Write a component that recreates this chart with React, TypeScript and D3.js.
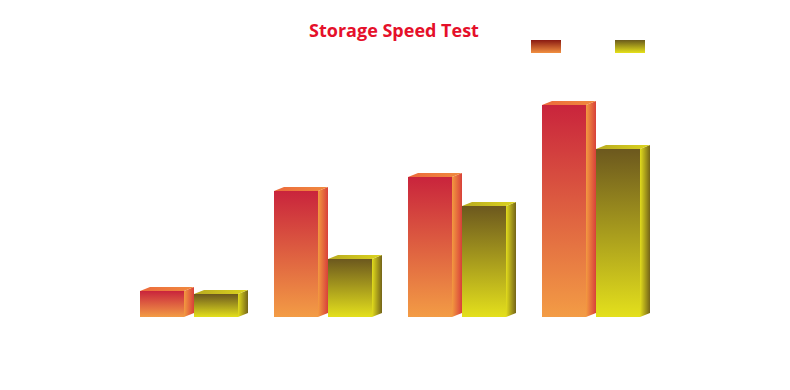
import React from "react";
import * as d3 from "d3";

const categories = ["Test 1", "Test 2", "Test 3", "Test 4"];
const seriesNames = ["Read", "Write"];
const readValues = [26, 126, 140, 212];
const writeValues = [23, 58, 111, 168];

const W = 790;
const H = 390;
const DX = 10;
const DY = 4;

export default function App() {
  const x0 = d3
    .scaleBand<string>()
    .domain(categories)
    .range([127, 663])
    .paddingInner(26 / 134)
    .paddingOuter(13 / 134);
  const x1 = d3.scaleBand<string>().domain(seriesNames).range([0, x0.bandwidth()]);
  const y = d3.scaleLinear().domain([0, 250]).range([317, 67]);
  const frontW = x1.bandwidth() - DX;
  const data = [readValues, writeValues];
  const ids = ["r", "y"];

  return (
    <svg width={W} height={H} style={{ position: "absolute", left: 0, top: 0 }}>
      <defs>
        <linearGradient id="r-front" x1="0" y1="0" x2="0" y2="1">
          <stop offset="0" stopColor="#c9243c" />
          <stop offset="1" stopColor="#f39c45" />
        </linearGradient>
        <linearGradient id="r-side" x1="0" y1="0" x2="1" y2="0">
          <stop offset="0" stopColor="#f39a40" />
          <stop offset="1" stopColor="#d8403a" />
        </linearGradient>
        <linearGradient id="r-top" x1="0" y1="0" x2="1" y2="0">
          <stop offset="0" stopColor="#ec6a3c" />
          <stop offset="1" stopColor="#f08a3e" />
        </linearGradient>
        <linearGradient id="y-front" x1="0" y1="0" x2="0" y2="1">
          <stop offset="0" stopColor="#6c581e" />
          <stop offset="1" stopColor="#e4e01c" />
        </linearGradient>
        <linearGradient id="y-side" x1="0" y1="0" x2="1" y2="0">
          <stop offset="0" stopColor="#e2dc1c" />
          <stop offset="1" stopColor="#746418" />
        </linearGradient>
        <linearGradient id="y-top" x1="0" y1="0" x2="1" y2="0">
          <stop offset="0" stopColor="#b8aa20" />
          <stop offset="1" stopColor="#dcd41e" />
        </linearGradient>
        <linearGradient id="r-leg" x1="0" y1="0" x2="0" y2="1">
          <stop offset="0" stopColor="#8a1a12" />
          <stop offset="1" stopColor="#f29040" />
        </linearGradient>
        <linearGradient id="y-leg" x1="0" y1="0" x2="0" y2="1">
          <stop offset="0" stopColor="#6a5a1c" />
          <stop offset="1" stopColor="#e6e21a" />
        </linearGradient>
      </defs>
      <rect width={W} height={H} fill="#ffffff" />
      <text
        x={394}
        y={37}
        textAnchor="middle"
        fontFamily="'Open Sans', sans-serif"
        fontWeight={700}
        fontSize={18}
        fill="#e5102a"
      >
        Storage Speed Test
      </text>
      {seriesNames.map((s, i) => (
        <g key={s}>
          <rect x={531 + i * 84} y={40} width={30} height={13} fill={`url(#${ids[i]}-leg)`} />
          <text x={566 + i * 84} y={51} fontFamily="'Open Sans', sans-serif" fontSize={11} fill="#ffffff">
            {s}
          </text>
        </g>
      ))}
      {categories.map((c, ci) => (
        <g key={c}>
          {seriesNames.map((s, si) => {
            const v = data[si][ci];
            const xl = (x0(c) as number) + (x1(s) as number);
            const xr = xl + frontW;
            const yt = y(v);
            const yb = y(0);
            const id = ids[si];
            return (
              <g key={s}>
                <path
                  d={`M${xr},${yb}L${xr + DX},${yb - DY}L${xr + DX},${yt - DY}L${xr},${yt}Z`}
                  fill={`url(#${id}-side)`}
                />
                <path
                  d={`M${xl},${yt}L${xl + DX},${yt - DY}L${xr + DX},${yt - DY}L${xr},${yt}Z`}
                  fill={`url(#${id}-top)`}
                />
                <rect x={xl} y={yt} width={frontW} height={yb - yt} fill={`url(#${id}-front)`} />
              </g>
            );
          })}
          <text
            x={(x0(c) as number) + x0.bandwidth() / 2}
            y={340}
            textAnchor="middle"
            fontFamily="'Open Sans', sans-serif"
            fontSize={11}
            fill="#ffffff"
          >
            {c}
          </text>
        </g>
      ))}
    </svg>
  );
}
